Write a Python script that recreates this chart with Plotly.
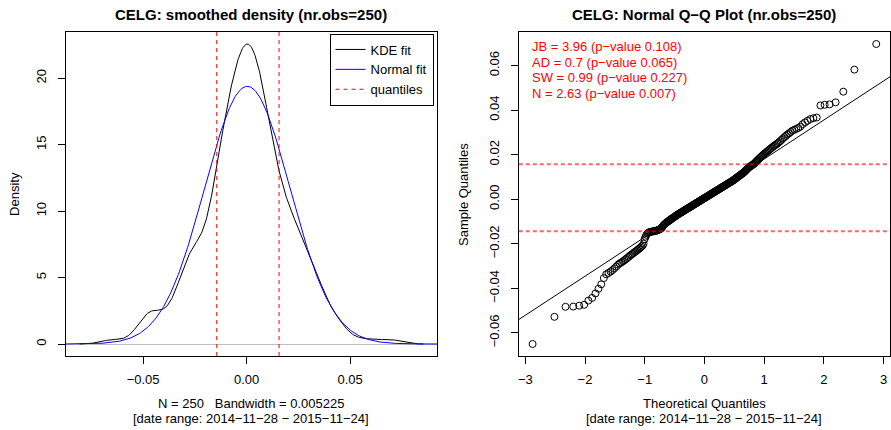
import numpy as np
import plotly.graph_objects as go
from statistics import NormalDist

# ---------------- data ----------------
TICKER = "CELG"
N_OBS = 250
DATE_RANGE = "[date range: 2014−11−28 − 2015−11−24]"
BANDWIDTH = 0.005225

# sorted daily returns (sample quantiles)
SAMPLE = [
    -0.0650, -0.0528, -0.0483, -0.0482, -0.0478, -0.0474, -0.0455, -0.0443, -0.0423, -0.0402,
    -0.0382, -0.0354, -0.0337,
    -0.0331, -0.0325, -0.0318, -0.0310, -0.0302, -0.0294, -0.0288, -0.0284, -0.0279, -0.0274,
    -0.0269, -0.0264, -0.0259, -0.0254, -0.0249, -0.0245, -0.0241, -0.0237, -0.0233, -0.0229,
    -0.0225, -0.0221, -0.0217, -0.0213, -0.0208, -0.0200, -0.0180,
    -0.0168, -0.0160, -0.0154, -0.0150, -0.0148, -0.0147, -0.0146, -0.0145, -0.0144, -0.0144,
    -0.0143, -0.0142, -0.0141, -0.0140, -0.0139, -0.0137, -0.0135, -0.0133, -0.0131, -0.0128,
    -0.0122, -0.0118, -0.0114, -0.0111, -0.0108, -0.0105, -0.0103, -0.0100, -0.0098, -0.0096,
    -0.0093, -0.0091, -0.0089, -0.0086, -0.0084, -0.0082, -0.0080, -0.0078, -0.0076,
    -0.00731, -0.00713, -0.00695, -0.00676, -0.00658, -0.00640,
    -0.00622, -0.00604, -0.00586, -0.00568, -0.00550,
    -0.00533, -0.00515, -0.00498, -0.00480, -0.00463,
    -0.00446, -0.00429, -0.00411, -0.00394, -0.00377,
    -0.00360, -0.00343, -0.00326, -0.00309, -0.00292,
    -0.00275, -0.00258, -0.00241, -0.00224, -0.00207,
    -0.00190, -0.00174, -0.00157, -0.00141, -0.00124,
    -0.00107, -0.00091, -0.00074, -0.00058, -0.00041,
    -0.00024, -0.00008, 0.00009, 0.00025, 0.00042,
    0.00058, 0.00075, 0.00091, 0.00108, 0.00124, 0.00141,
    0.00158, 0.00174, 0.00191, 0.00207, 0.00224,
    0.00241, 0.00257, 0.00274, 0.00290, 0.00307,
    0.00324, 0.00341, 0.00358, 0.00375, 0.00392,
    0.00409, 0.00426, 0.00443, 0.00460, 0.00477,
    0.00494, 0.00511, 0.00529, 0.00546, 0.00563,
    0.00580, 0.00598, 0.00615, 0.00633, 0.00650,
    0.00668, 0.00686, 0.00704, 0.00722, 0.00740,
    0.00758, 0.00776, 0.00794, 0.00812, 0.00831,
    0.00855, 0.00876, 0.00899, 0.00922, 0.00945, 0.00968, 0.00991, 0.01015, 0.01038,
    0.01062, 0.01086, 0.01110, 0.01134, 0.01158, 0.01183, 0.01210, 0.01240, 0.01275, 0.01310,
    0.01345, 0.01380, 0.01415, 0.01445, 0.01470, 0.01495, 0.01520, 0.01545, 0.01570, 0.01595,
    0.01640, 0.01680, 0.01720, 0.01760, 0.01800, 0.01840, 0.01880, 0.01920, 0.01960, 0.02000,
    0.02037, 0.02074, 0.02111, 0.02149, 0.02188, 0.02227, 0.02268, 0.02309, 0.02351, 0.02394,
    0.0243, 0.0247, 0.0251, 0.0256, 0.0261, 0.0267, 0.0273, 0.0279, 0.0285, 0.0291,
    0.0296, 0.0302, 0.0308, 0.0312, 0.0316, 0.0320, 0.0326, 0.0337, 0.0345, 0.0352,
    0.0360, 0.0364, 0.0367, 0.0421, 0.0424, 0.0426, 0.0435, 0.0483, 0.0582, 0.0697,
]
assert len(SAMPLE) == N_OBS, len(SAMPLE)

QUANTILE_LINES = [-0.0144, 0.0157]

STATS_LINES = [
    "JB = 3.96 (p−value 0.108)",
    "AD = 0.7 (p−value 0.065)",
    "SW = 0.99 (p−value 0.227)",
    "N = 2.63 (p−value 0.007)",
]

LEGEND_NAMES = ["KDE fit", "Normal fit", "quantiles"]

DENS_XTICKS = [-0.05, 0.0, 0.05]
DENS_XTICKTEXT = ["−0.05", "0.00", "0.05"]
DENS_YTICKS = [0, 5, 10, 15, 20]
DENS_YTICKTEXT = ["0", "5", "10", "15", "20"]
QQ_XTICKS = [-3, -2, -1, 0, 1, 2, 3]
QQ_XTICKTEXT = ["−3", "−2", "−1", "0", "1", "2", "3"]
QQ_YTICKS = [-0.06, -0.04, -0.02, 0.0, 0.02, 0.04, 0.06]
QQ_YTICKTEXT = ["−0.06", "−0.04", "−0.02", "0.00", "0.02", "0.04", "0.06"]

# ---------------- derived quantities (as R computes them) ----------------
x = np.array(SAMPLE)
n = len(x)

# Gaussian KDE, R density() style (512 points, cut = 3)
grid = np.linspace(x.min() - 3 * BANDWIDTH, x.max() + 3 * BANDWIDTH, 512)
kde = np.exp(-0.5 * ((grid[:, None] - x[None, :]) / BANDWIDTH) ** 2).sum(axis=1)
kde /= n * BANDWIDTH * np.sqrt(2 * np.pi)


def expand(lo, hi, f=0.04):
    d = (hi - lo) * f
    return [lo - d, hi + d]


dens_xr = expand(grid.min(), grid.max())
dens_yr = expand(0.0, kde.max())

mu, sd = x.mean(), x.std(ddof=1)
ngrid = np.linspace(dens_xr[0], dens_xr[1], 400)
nfit = np.exp(-0.5 * ((ngrid - mu) / sd) ** 2) / (sd * np.sqrt(2 * np.pi))

nd = NormalDist()
theo = np.array([nd.inv_cdf((i - 0.5) / n) for i in range(1, n + 1)])
qq_xr = expand(theo.min(), theo.max())
qq_yr = expand(x.min(), x.max())

y25, y75 = np.percentile(x, [25, 75])
x25, x75 = nd.inv_cdf(0.25), nd.inv_cdf(0.75)
slope = (y75 - y25) / (x75 - x25)
icpt = y25 - slope * x25
line_x = np.array(qq_xr)
line_y = icpt + slope * line_x

# ---------------- figure ----------------
W, H = 891, 430
FONT = "Liberation Sans, Arial, Helvetica, sans-serif"
FS = 13
NB = "\u00a0"

fig = go.Figure()

fig.add_trace(go.Scatter(x=grid, y=kde, mode="lines", name=LEGEND_NAMES[0],
                         line=dict(color="black", width=1), xaxis="x", yaxis="y"))
fig.add_trace(go.Scatter(x=ngrid, y=nfit, mode="lines", name=LEGEND_NAMES[1],
                         line=dict(color="blue", width=1), xaxis="x", yaxis="y"))
qx, qy = [], []
for q in QUANTILE_LINES:
    qx += [q, q, None]
    qy += [dens_yr[0], dens_yr[1], None]
fig.add_trace(go.Scatter(x=qx, y=qy, mode="lines", name=LEGEND_NAMES[2],
                         line=dict(color="red", width=1, dash="4px,4px"), xaxis="x", yaxis="y"))

# Q-Q panel
fig.add_trace(go.Scatter(x=theo, y=x, mode="markers", showlegend=False,
                         marker=dict(symbol="circle-open", size=7, color="black",
                                     line=dict(width=1, color="black")),
                         xaxis="x2", yaxis="y2"))
fig.add_trace(go.Scatter(x=line_x, y=line_y, mode="lines", showlegend=False,
                         line=dict(color="black", width=1), xaxis="x2", yaxis="y2"))
hx, hy = [], []
for q in QUANTILE_LINES:
    hx += [qq_xr[0], qq_xr[1], None]
    hy += [q, q, None]
fig.add_trace(go.Scatter(x=hx, y=hy, mode="lines", showlegend=False,
                         line=dict(color="rgba(255,0,0,0.6)", width=2, dash="4px,3px"),
                         xaxis="x2", yaxis="y2"))

ydom = [1 - 356 / H, 1 - 32 / H]
common = dict(showline=True, linecolor="black", linewidth=1, mirror=True,
              ticks="outside", ticklen=7, tickcolor="black", tickwidth=1,
              showgrid=False, zeroline=False,
              tickfont=dict(size=FS, color="black", family=FONT))

fig.update_layout(
    width=W, height=H,
    margin=dict(l=0, r=0, t=0, b=0),
    paper_bgcolor="white", plot_bgcolor="white",
    font=dict(family=FONT, size=FS, color="black"),
    xaxis=dict(domain=[65 / W, 437 / W], range=dens_xr, anchor="y",
               tickvals=DENS_XTICKS, ticktext=DENS_XTICKTEXT, ticklabelstandoff=4, **common),
    yaxis=dict(domain=ydom, range=dens_yr, anchor="x",
               tickvals=DENS_YTICKS, ticktext=DENS_YTICKTEXT, tickangle=-90,
               ticklabelstandoff=7,
               **{**common, "zeroline": True, "zerolinecolor": "#BEBEBE", "zerolinewidth": 1}),
    xaxis2=dict(domain=[519 / W, 1.0], range=qq_xr, anchor="y2",
                tickvals=QQ_XTICKS, ticktext=QQ_XTICKTEXT, ticklabelstandoff=4, **common),
    yaxis2=dict(domain=ydom, range=qq_yr, anchor="x2",
                tickvals=QQ_YTICKS, ticktext=QQ_YTICKTEXT, tickangle=-90,
                ticklabelstandoff=7, **common),
    showlegend=True,
    legend=dict(x=433.5 / W, xanchor="right", y=1 - 33.5 / H, yanchor="top",
                bordercolor="black", borderwidth=1, bgcolor="white",
                font=dict(size=FS, family=FONT, color="black"), tracegroupgap=0),
)

ann = []
def add_text(text, px, py, size=FS, color="black", angle=0, xanchor="center", bold=False):
    ann.append(dict(text=(f"<b>{text}</b>" if bold else text), x=px / W, y=1 - py / H,
                    xref="paper", yref="paper", showarrow=False, textangle=angle,
                    xanchor=xanchor, yanchor="middle",
                    font=dict(size=size, color=color, family=FONT)))

add_text(f"{TICKER}: smoothed density (nr.obs={N_OBS})", 251, 14, size=15, bold=True)
add_text(f"{TICKER}: Normal Q−Q Plot (nr.obs={N_OBS})", 705, 14, size=15, bold=True)
add_text(f"N = {N_OBS}{NB}{NB}{NB}Bandwidth = {BANDWIDTH}", 251, 403)
add_text(DATE_RANGE, 251, 418)
add_text("Theoretical Quantiles", 705, 403)
add_text(DATE_RANGE, 705, 418)
add_text("Density", 13, 194, angle=-90)
add_text("Sample Quantiles", 463, 194, angle=-90)
for k, s in enumerate(STATS_LINES):
    add_text(s, 530, 46.7 + 15.5 * k, color="red", xanchor="left")

fig.update_layout(annotations=ann)
fig.write_html("out.html", config={"displayModeBar": False},
               post_script="document.body.style.margin='0';document.body.style.overflow='hidden';")
